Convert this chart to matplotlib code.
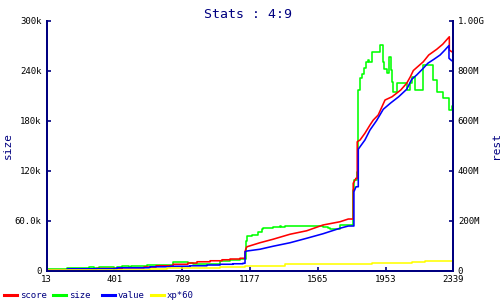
import matplotlib
matplotlib.use("Agg")
import matplotlib.pyplot as plt
from matplotlib.lines import Line2D

plt.rcParams['font.family'] = ['DejaVu Sans Mono']

title = "Stats : 4:9"
series_names = ["score", "size", "value", "xp*60"]
series_colors = ["#ff0000", "#00ff00", "#0000ff", "#ffff00"]

x_ticks = [13, 401, 789, 1177, 1565, 1953, 2339]
left_ticks = [0, 60000, 120000, 180000, 240000, 300000]
left_labels = ["0", "60.0k", "120k", "180k", "240k", "300k"]
right_ticks = [0, 200e6, 400e6, 600e6, 800e6, 1000e6]
right_labels = ["0", "200M", "400M", "600M", "800M", "1.00G"]

# size (left axis, thousands) - step series
size_x = [13, 132, 256, 285, 313, 399, 416, 445, 485, 496, 588, 702, 737, 822, 851, 891,
          1006, 1063, 1120, 1155, 1160, 1162, 1189, 1223, 1244, 1252, 1309, 1320, 1349, 1355,
          1378, 1595, 1624, 1635, 1692, 1768, 1772, 1784, 1788, 1797, 1807, 1817, 1830, 1841,
          1852, 1858, 1874, 1921, 1940, 1945, 1960, 1973, 1982, 1988, 1997, 2020, 2074, 2093,
          2103, 2121, 2169, 2226, 2246, 2284, 2316, 2332, 2339]
size_k = [1.4, 3.0, 4.2, 3.0, 4.2, 3.0, 4.0, 5.0, 4.2, 5.0, 6.2, 6.6, 9.8, 8.6, 7.8, 8.0,
          11.4, 13.0, 13.8, 35.0, 38.6, 41.0, 42.6, 45.8, 49.4, 50.6, 51.8, 52.6, 54.0, 52.6,
          53.6, 52.0, 51.0, 50.0, 54.2, 96.6, 108.6, 109.0, 118.6, 216.6, 230.6, 235.4, 242.6, 250.6,
          253.0, 250.6, 262.6, 270.6, 250.0, 242.0, 237.0, 256.6, 240.6, 226.6, 214.6, 224.6, 216.6, 224.6,
          232.6, 216.6, 246.6, 228.6, 214.6, 206.6, 192.6, 197.0, 197.0]

# score (right axis, millions) - vertices
score_x = [13, 300, 300, 445, 445, 571, 571, 640, 640, 737, 737, 822, 822, 874, 874, 949, 949,
           1017, 1017, 1063, 1063, 1120, 1120, 1149, 1149, 1155, 1160, 1234, 1309, 1406, 1502,
           1595, 1692, 1740, 1768, 1768, 1784, 1791, 1791, 1807, 1835, 1864, 1883, 1911, 1950,
           1990, 2040, 2074, 2095, 2112, 2169, 2200, 2246, 2280, 2318, 2318, 2332, 2339]
score_m = [3, 3, 8, 8, 11, 11, 14, 14, 19, 19, 25, 25, 30, 30, 35, 35, 39,
           39, 43, 43, 46, 46, 49, 49, 75, 89, 95, 111, 125, 145, 159,
           182, 195, 206, 206, 349, 369, 369, 515, 522, 549, 582, 602, 622, 682,
           695, 722, 749, 775, 800, 835, 862, 885, 905, 935, 882, 875, 875]

# value (right axis, millions) - vertices
value_x = [13, 132, 132, 416, 416, 605, 605, 720, 720, 834, 834, 931, 931, 1006, 1006, 1080,
           1080, 1137, 1137, 1149, 1149, 1160, 1234, 1309, 1406, 1502, 1595, 1692, 1740, 1772,
           1772, 1784, 1797, 1797, 1807, 1835, 1864, 1902, 1940, 1982, 2028, 2074, 2103, 2131,
           2169, 2195, 2230, 2265, 2290, 2316, 2316, 2332, 2339]
value_m = [1, 1, 7, 7, 11, 11, 15, 15, 17, 17, 19, 19, 22, 22, 25, 25,
           27, 27, 29, 29, 75, 78, 85, 97, 111, 129, 147, 169, 178, 178,
           315, 335, 335, 485, 495, 522, 562, 600, 645, 670, 695, 725, 765, 782,
           809, 829, 845, 862, 880, 900, 849, 839, 839]

# xp*60 (right axis, millions) - step series
xp_x = [13, 605, 702, 834, 1006, 1149, 1177, 1378, 1874, 2103, 2179, 2339]
xp_m = [3, 7, 9, 11, 14, 17, 19, 27, 29, 35, 39, 39]

navy = "#000080"

fig = plt.figure(figsize=(5, 3), dpi=100)
ax = fig.add_axes([0.093, 0.0983, 0.813, 0.8333])
ax2 = ax.twinx()
ax2.set_position([0.093, 0.0983, 0.813, 0.8333])

lw = 1.15
ax.step(size_x, [v * 1000 for v in size_k], where='post', color=series_colors[1], lw=lw)
ax2.plot(score_x, [v * 1e6 for v in score_m], color=series_colors[0], lw=lw)
ax2.plot(value_x, [v * 1e6 for v in value_m], color=series_colors[2], lw=lw)
ax2.step(xp_x, [v * 1e6 for v in xp_m], where='post', color=series_colors[3], lw=lw)

ax.set_xlim(13, 2339)
ax.set_ylim(0, 300000)
ax2.set_ylim(0, 1e9)

ax.set_xticks(x_ticks)
ax.set_xticklabels([str(t) for t in x_ticks])
ax.set_yticks(left_ticks)
ax.set_yticklabels(left_labels)
ax2.set_yticks(right_ticks)
ax2.set_yticklabels(right_labels)

for a in (ax, ax2):
    a.spines['top'].set_visible(False)
    for s in ('left', 'right', 'bottom'):
        a.spines[s].set_color(navy)
        a.spines[s].set_linewidth(1.4)
    a.tick_params(direction='in', length=3, width=1.2, color=navy, labelsize=6.5,
                  labelcolor='black', pad=3.5)

ax.set_ylabel("size", color=navy, fontsize=8)
ax.yaxis.set_label_coords(-0.082, 0.5)
ax2.set_ylabel("rest", color=navy, fontsize=8)
ax2.yaxis.set_label_coords(1.093, 0.5)

fig.text(0.496, 0.975, title, color=navy, fontsize=9.5, ha='center', va='top')

# legend along the bottom
for i, (name, col) in enumerate(zip(series_names, series_colors)):
    x0 = (4 + 49 * i) / 500
    fig.add_artist(Line2D([x0, x0 + 13 / 500], [5 / 300, 5 / 300], color=col, lw=2.2,
                          transform=fig.transFigure))
    fig.text(x0 + 16 / 500, 5 / 300, name, color=navy, fontsize=6.5, va='center', ha='left')

fig.savefig("out.png", dpi=100)
